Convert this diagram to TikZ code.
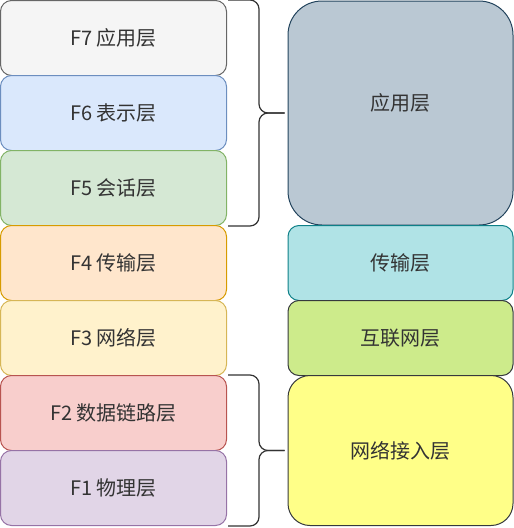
\documentclass[tikz,border=0pt]{standalone}
\usepackage{fontspec}
\setmainfont{Noto Sans CJK SC}
\usetikzlibrary{calc}

\definecolor{grayfill}{HTML}{F5F5F5}\definecolor{graydraw}{HTML}{666666}
\definecolor{bluefill}{HTML}{DAE8FC}\definecolor{bluedraw}{HTML}{6C8EBF}
\definecolor{greenfill}{HTML}{D5E8D4}\definecolor{greendraw}{HTML}{82B366}
\definecolor{orangefill}{HTML}{FFE6CC}\definecolor{orangedraw}{HTML}{D79B00}
\definecolor{yellowfill}{HTML}{FFF2CC}\definecolor{yellowdraw}{HTML}{D6B656}
\definecolor{redfill}{HTML}{F8CECC}\definecolor{reddraw}{HTML}{B85450}
\definecolor{purplefill}{HTML}{E1D5E7}\definecolor{purpledraw}{HTML}{9673A6}
\definecolor{steelfill}{HTML}{BAC8D3}\definecolor{steeldraw}{HTML}{23445D}
\definecolor{tealfill}{HTML}{B0E3E6}\definecolor{tealdraw}{HTML}{0E8088}
\definecolor{limefill}{HTML}{CDEB8B}\definecolor{darkdraw}{HTML}{36393D}
\definecolor{lemonfill}{HTML}{FFFF88}
\definecolor{textgray}{HTML}{333333}

\begin{document}
\begin{tikzpicture}[x=1pt,y=-1pt]
	\tikzstyle{osi}=[draw,line width=1pt,rounded corners=11pt,minimum width=226pt,minimum height=75pt,text=textgray,font=\fontsize{20}{24}\selectfont]
	\tikzstyle{tcp}=[draw,line width=1pt,minimum width=225pt,text=textgray,font=\fontsize{20}{24}\selectfont]
	\tikzstyle{brace}=[draw=textgray,line width=1.2pt,rounded corners=9pt,shorten >=3pt]

	\useasboundingbox (0,0) rectangle (514,528);

	\node[osi,fill=grayfill,draw=graydraw](f7) at (113.5,38){F7 应用层};
	\node[osi,fill=bluefill,draw=bluedraw](f6) at (113.5,113){F6 表示层};
	\node[osi,fill=greenfill,draw=greendraw](f5) at (113.5,188){F5 会话层};
	\node[osi,fill=orangefill,draw=orangedraw](f4) at (113.5,263){F4 传输层};
	\node[osi,fill=yellowfill,draw=yellowdraw](f3) at (113.5,338){F3 网络层};
	\node[osi,fill=redfill,draw=reddraw](f2) at (113.5,413){F2 数据链路层};
	\node[osi,fill=purplefill,draw=purpledraw](f1) at (113.5,488){F1 物理层};

	\node[tcp,fill=steelfill,draw=steeldraw,minimum height=224pt,rounded corners=34pt](app) at (400.5,113){\raisebox{22pt}{应用层}};
	\node[tcp,fill=tealfill,draw=tealdraw,minimum height=75pt,rounded corners=11pt](trans) at (400.5,263){传输层};
	\node[tcp,fill=limefill,draw=darkdraw,minimum height=75pt,rounded corners=11pt](inet) at (400.5,338){互联网层};
	\node[tcp,fill=lemonfill,draw=darkdraw,minimum height=150pt,rounded corners=22pt](access) at (400.5,450.5){网络接入层};

	\draw[brace] ($(f7.north east)+(1,0)$) -- ++(31,0) |- (app.west);
	\draw[brace] ($(f5.south east)+(1,0)$) -- ++(31,0) |- (app.west);
	\draw[brace] ($(f2.north east)+(1,0)$) -- ++(31,0) |- (access.west);
	\draw[brace] ($(f1.south east)+(1,0)$) -- ++(31,0) |- (access.west);
\end{tikzpicture}
\end{document}
